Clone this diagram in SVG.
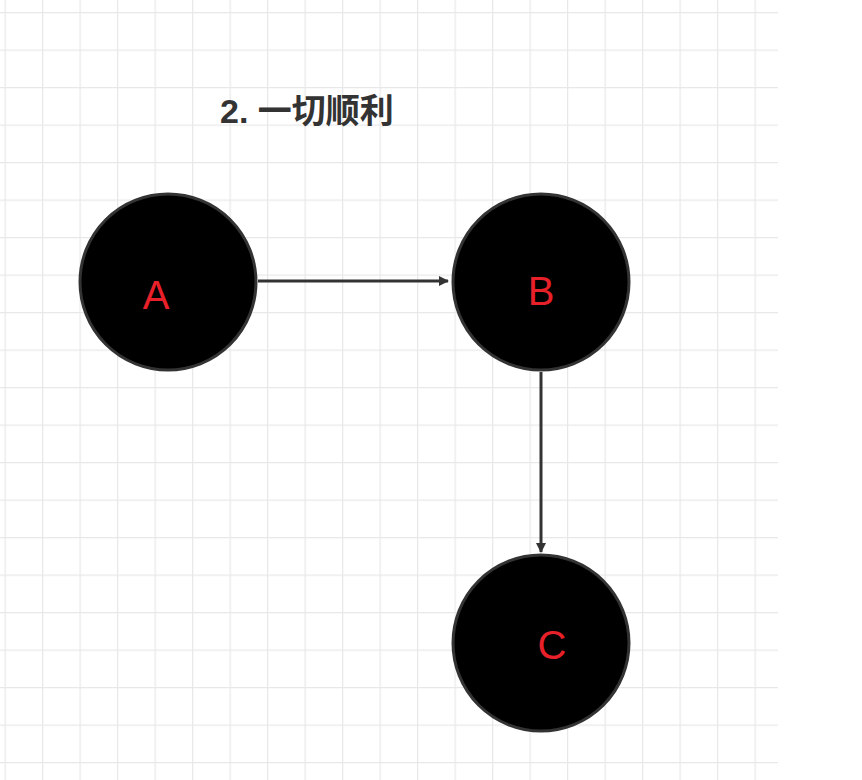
<svg xmlns="http://www.w3.org/2000/svg" width="862" height="780" viewBox="0 0 862 780">
<defs>
<pattern id="grid" x="4.5" y="12" width="37.5" height="37.5" patternUnits="userSpaceOnUse">
<path d="M0 0H37.5M0 0V37.5" fill="none" stroke="#e8e8e8" stroke-width="2.5"/>
</pattern>
<marker id="arr" markerWidth="10" markerHeight="10" refX="9" refY="5" orient="auto" markerUnits="userSpaceOnUse" viewBox="0 0 10 10">
<path d="M0 0L10 5L0 10Z" fill="#333"/>
</marker>
</defs>
<style>
.n{fill:#000;stroke:#333;stroke-width:3}
.l{fill:#e8202a;font-family:"Liberation Sans",Arial,sans-serif;font-size:40px;text-anchor:middle}
.e{stroke:#333;stroke-width:3;fill:none}
</style>
<rect width="862" height="780" fill="#fff"/>
<rect x="0" y="0" width="778" height="780" fill="url(#grid)"/>
<text x="220" y="123" font-family="'Liberation Sans','Noto Sans CJK SC',sans-serif" font-size="34" font-weight="bold" fill="#333">2. 一切顺利</text>
<g id="edges">
<path class="e" d="M258 281H448" marker-end="url(#arr)" style="marker-end:url(#arr)"/>
<path class="e" d="M541 372V552" marker-end="url(#arr)"/>
</g>
<g id="A"><circle class="n" cx="168" cy="282" r="88"/><text class="l" x="156" y="309">A</text></g>
<g id="B"><circle class="n" cx="541" cy="282" r="88"/><text class="l" x="541" y="305">B</text></g>
<g id="C"><circle class="n" cx="541" cy="643" r="88"/><text class="l" x="552" y="659">C</text></g>
</svg>
